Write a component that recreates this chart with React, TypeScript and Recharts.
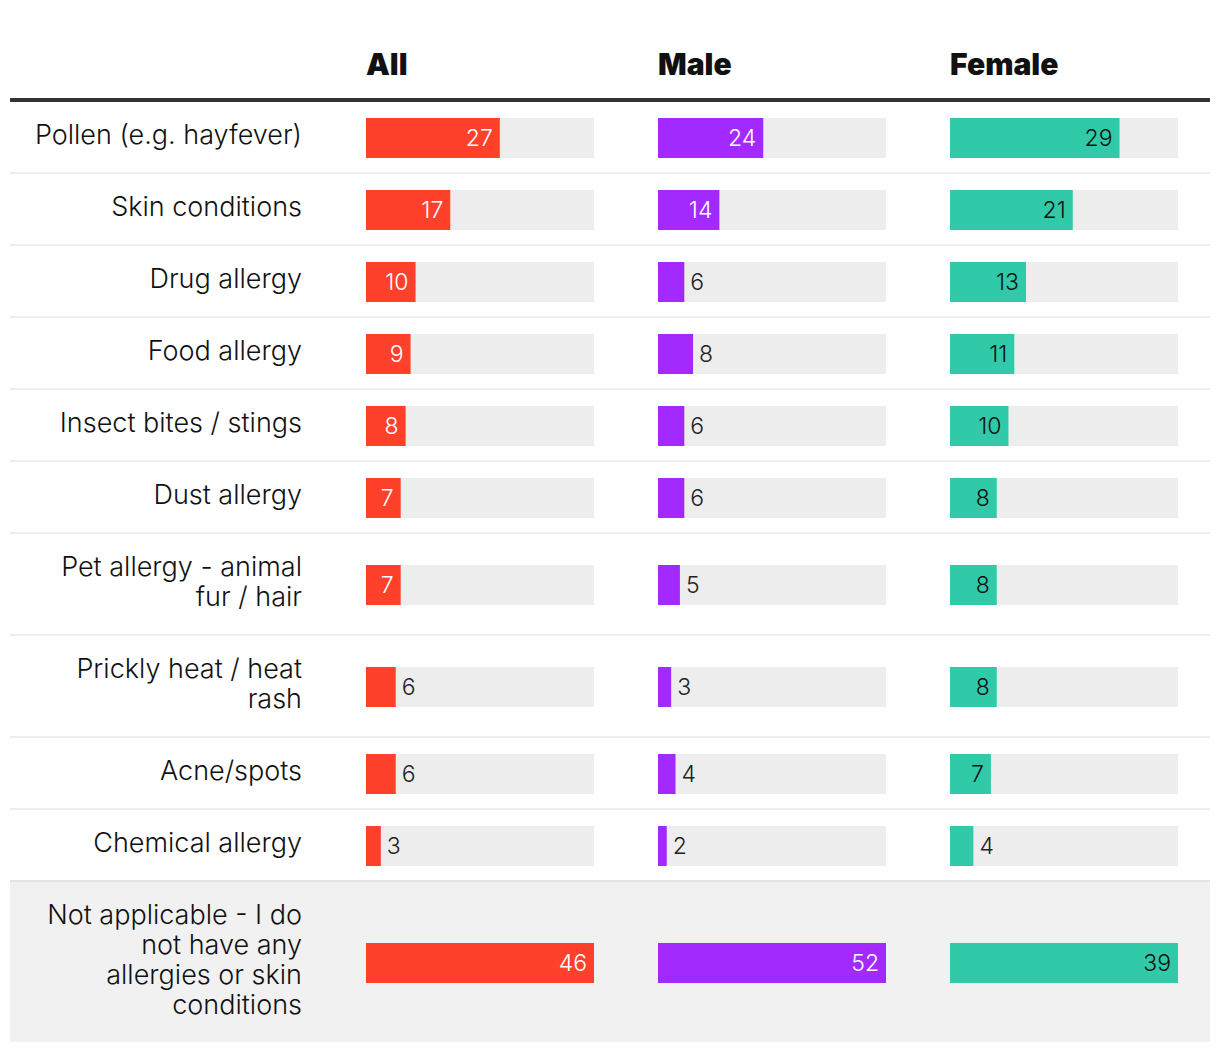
import React from "react";
import { BarChart, Bar, XAxis, YAxis, LabelList } from "recharts";

const categories = [
  "Pollen (e.g. hayfever)",
  "Skin conditions",
  "Drug allergy",
  "Food allergy",
  "Insect bites / stings",
  "Dust allergy",
  "Pet allergy - animal\nfur / hair",
  "Prickly heat / heat\nrash",
  "Acne/spots",
  "Chemical allergy",
  "Not applicable - I do\nnot have any\nallergies or skin\nconditions",
];

const columnLabels = ["All", "Male", "Female"];
const allValues = [27, 17, 10, 9, 8, 7, 7, 6, 6, 3, 46];
const maleValues = [24, 14, 6, 8, 6, 6, 5, 3, 4, 2, 52];
const femaleValues = [29, 21, 13, 11, 10, 8, 8, 8, 7, 4, 39];

// smallest value whose label sits inside the bar, per column
const insideFrom = [7, 10, 7];

const COLUMNS = [
  { values: allValues, color: "#ff412c", inText: "#ffffff" },
  { values: maleValues, color: "#a22aff", inText: "#ffffff" },
  { values: femaleValues, color: "#31caa8", inText: "#111111" },
];

const FONT = "Inter, Roboto, sans-serif";
const BAR_W = 228;
const GAP = 64;

function Cell({ col, row }: { col: number; row: number }) {
  const { values, color, inText } = COLUMNS[col];
  const max = Math.max(...values);
  const value = values[row];
  const inside = value >= insideFrom[col];
  // band is 44 tall so a 40px bar is not shrunk by recharts
  return (
    <BarChart
      width={BAR_W}
      height={44}
      layout="vertical"
      data={[{ name: categories[row], value }]}
      margin={{ top: 0, right: 0, bottom: 0, left: 0 }}
      barCategoryGap={0}
      style={{ marginTop: -1 }}
    >
      <XAxis type="number" domain={[0, max]} hide />
      <YAxis type="category" dataKey="name" hide />
      <Bar
        dataKey="value"
        fill={color}
        barSize={40}
        background={{ fill: "#ededed" }}
        isAnimationActive={false}
      >
        <LabelList
          dataKey="value"
          content={(p: any) => {
            const x = Number(p.x);
            const w = Number(p.width);
            const y = Number(p.y) + Number(p.height) / 2;
            return (
              <text
                x={inside ? x + w - 7 : x + w + 6}
                y={y}
                dy="0.36em"
                textAnchor={inside ? "end" : "start"}
                fill={inside ? inText : "#222"}
                fontSize={23}
                fontWeight={300}
                fontFamily={FONT}
              >
                {p.value}
              </text>
            );
          }}
        />
      </Bar>
    </BarChart>
  );
}

export default function App() {
  const last = categories.length - 1;
  return (
    <div style={{ width: 1200, marginLeft: 2, fontFamily: FONT, color: "#111" }}>
      <div
        style={{
          height: 90,
          borderBottom: "4px solid #333",
          display: "flex",
          alignItems: "flex-end",
        }}
      >
        <div style={{ width: 356 }} />
        {columnLabels.map((c, i) => (
          <div
            key={c}
            style={{
              width: BAR_W,
              marginRight: i < 2 ? GAP : 0,
              fontSize: 30,
              lineHeight: "30px",
              fontWeight: 900,
              paddingBottom: 19,
            }}
          >
            {c}
          </div>
        ))}
      </div>
      {categories.map((cat, r) => (
        <div
          key={cat}
          style={{
            display: "flex",
            alignItems: "center",
            background: r === last ? "#f1f1f1" : "transparent",
            borderBottom:
              r === last ? "none" : `2px solid ${r === last - 1 ? "#e3e3e3" : "#eeeeee"}`,
          }}
        >
          <div
            style={{
              width: 356,
              boxSizing: "border-box",
              padding: "18px 64px 22px 0",
              textAlign: "right",
              whiteSpace: "pre-line",
              fontSize: 27,
              fontWeight: 300,
              lineHeight: "30px",
            }}
          >
            {cat}
          </div>
          {columnLabels.map((c, i) => (
            <div key={c} style={{ width: BAR_W, height: 40, marginRight: i < 2 ? GAP : 0 }}>
              <Cell col={i} row={r} />
            </div>
          ))}
        </div>
      ))}
    </div>
  );
}
